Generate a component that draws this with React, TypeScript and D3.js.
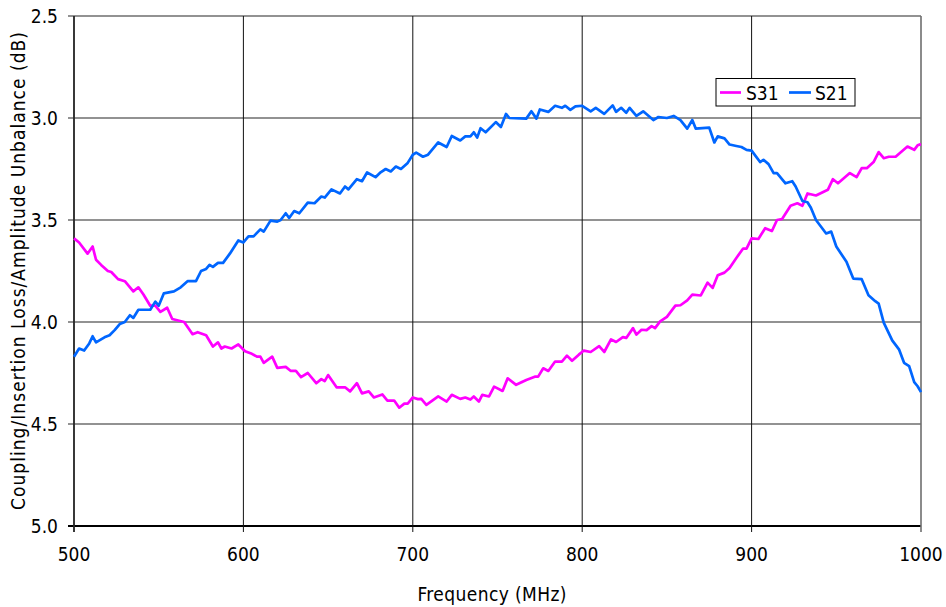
import React from "react";
import * as d3 from "d3";

const xTicks = [500, 600, 700, 800, 900, 1000];
const yTicks = [2.5, 3.0, 3.5, 4.0, 4.5, 5.0];
const seriesNames = ["S31", "S21"];
const seriesColors = ["#ff00ff", "#0066ff"];

const s31: [number, number][] = [
  [500,3.59],[503,3.61],[508,3.665],[511,3.63],[513,3.695],[516,3.72],[520,3.75],[522,3.755],[526,3.79],[530,3.80],[535,3.85],[538,3.83],[541,3.865],[545,3.92],[548,3.92],[551,3.95],[555,3.93],[558,3.985],[565,4.0],[570,4.06],[573,4.05],[578,4.065],[582,4.12],[585,4.10],[587,4.13],[589,4.12],[593,4.13],[597,4.11],[601,4.143],[605,4.156],[608,4.17],[610,4.17],[612,4.20],[617,4.17],[620,4.225],[625,4.22],[628,4.24],[631,4.24],[634,4.27],[638,4.25],[643,4.30],[646,4.28],[648,4.29],[650,4.26],[655,4.32],[660,4.32],[663,4.34],[667,4.30],[670,4.35],[674,4.34],[677,4.37],[682,4.355],[685,4.385],[689,4.385],[692,4.42],[695,4.40],[697,4.40],[700,4.37],[703,4.378],[705,4.377],[708,4.406],[715,4.365],[720,4.39],[723,4.357],[728,4.377],[731,4.37],[734,4.38],[736,4.365],[739,4.39],[741,4.357],[745,4.365],[748,4.317],[753,4.338],[756,4.276],[761,4.308],[767,4.284],[772,4.268],[774,4.268],[777,4.227],[780,4.24],[784,4.194],[788,4.194],[791,4.165],[794,4.19],[798,4.16],[801,4.14],[805,4.147],[810,4.118],[813,4.147],[817,4.085],[820,4.098],[824,4.074],[826,4.078],[830,4.03],[832,4.062],[835,4.038],[838,4.04],[841,4.02],[843,4.03],[846,3.997],[850,3.975],[855,3.92],[858,3.918],[862,3.894],[865,3.866],[870,3.87],[874,3.807],[877,3.833],[880,3.771],[884,3.758],[887,3.735],[891,3.686],[895,3.64],[897,3.64],[900,3.59],[904,3.593],[908,3.54],[912,3.554],[915,3.5],[918,3.495],[923,3.43],[927,3.418],[930,3.43],[933,3.37],[938,3.38],[945,3.352],[948,3.30],[951,3.32],[958,3.27],[962,3.29],[965,3.246],[968,3.246],[972,3.216],[975,3.167],[978,3.197],[981,3.19],[985,3.19],[992,3.14],[996,3.156],[998,3.134],[1000,3.128]
];

const s21: [number, number][] = [
  [500,4.17],[503,4.13],[506,4.14],[509,4.105],[511,4.07],[513,4.10],[518,4.075],[521,4.065],[524,4.04],[527,4.01],[530,4.0],[533,3.967],[535,3.98],[538,3.94],[545,3.94],[548,3.90],[550,3.92],[553,3.86],[559,3.85],[563,3.83],[567,3.80],[572,3.80],[575,3.75],[578,3.74],[580,3.72],[582,3.73],[585,3.71],[588,3.71],[592,3.665],[597,3.60],[600,3.61],[603,3.58],[606,3.58],[610,3.546],[612,3.557],[616,3.503],[620,3.508],[622,3.5],[625,3.467],[627,3.49],[630,3.456],[633,3.467],[638,3.415],[642,3.418],[646,3.385],[648,3.39],[652,3.35],[657,3.37],[660,3.336],[662,3.35],[667,3.30],[670,3.31],[673,3.267],[678,3.29],[681,3.266],[684,3.25],[687,3.262],[690,3.238],[693,3.25],[697,3.22],[700,3.18],[702,3.17],[706,3.19],[709,3.18],[715,3.12],[720,3.142],[723,3.088],[728,3.11],[731,3.09],[734,3.09],[736,3.07],[738,3.096],[740,3.05],[743,3.07],[749,3.02],[752,3.044],[755,2.98],[757,3.0],[767,3.003],[770,2.967],[773,3.003],[775,2.958],[780,2.97],[784,2.94],[788,2.95],[790,2.94],[793,2.96],[796,2.943],[800,2.94],[805,2.967],[808,2.95],[813,2.98],[818,2.938],[820,2.97],[823,2.95],[826,2.974],[828,2.95],[832,2.99],[836,2.967],[842,3.01],[845,2.995],[850,3.0],[854,2.99],[858,3.01],[862,3.052],[865,3.01],[867,3.052],[875,3.047],[878,3.12],[880,3.09],[884,3.10],[887,3.13],[891,3.137],[894,3.142],[897,3.156],[900,3.16],[905,3.216],[907,3.205],[910,3.226],[913,3.27],[915,3.27],[920,3.32],[924,3.31],[926,3.336],[930,3.407],[933,3.413],[935,3.44],[938,3.50],[944,3.566],[947,3.557],[950,3.63],[956,3.705],[960,3.787],[965,3.79],[969,3.869],[973,3.898],[975,3.91],[978,4.003],[983,4.09],[987,4.134],[990,4.20],[993,4.216],[996,4.295],[998,4.315],[1000,4.344]
];

const W = 946, H = 607;
const L = 74, R = 921, T = 16, B = 526;
const FONT = "'DejaVu Sans Condensed', 'DejaVu Sans', sans-serif";

export default function App() {
  const x = d3.scaleLinear().domain([500, 1000]).range([L, R]);
  const y = d3.scaleLinear().domain([2.5, 5.0]).range([T, B]);
  const line = d3.line<[number, number]>().x(d => x(d[0])).y(d => y(d[1]));
  const data = [s31, s21];

  return (
    <svg width={W} height={H} style={{ position: "absolute", left: 0, top: 0, background: "#fff" }}
      fontFamily={FONT} fontStretch="condensed">
      <rect x={0} y={0} width={W} height={H} fill="#fff" />
      {yTicks.map(t => (
        <g key={"y" + t}>
          <line x1={L - 6} x2={R} y1={y(t)} y2={y(t)} stroke={t === 5 ? "#000" : "#6e6e6e"} strokeWidth={t === 5 ? 2 : 1.6} />
          <text x={58} y={y(t)} dy="0.36em" textAnchor="end" fontSize={19} fill="#000">{t.toFixed(1)}</text>
        </g>
      ))}
      {xTicks.map(t => (
        <g key={"x" + t}>
          <line x1={x(t)} x2={x(t)} y1={T} y2={B + 6} stroke={t === 500 || t === 1000 ? "#6e6e6e" : "#111"} strokeWidth={t === 500 || t === 1000 ? 1.6 : 1} />
          <text x={x(t)} y={561} textAnchor="middle" fontSize={19} fill="#000">{t}</text>
        </g>
      ))}
      <line x1={L} x2={L} y1={T} y2={B + 6} stroke="#000" strokeWidth={1.2} />
      {data.map((d, i) => (
        <path key={i} d={line(d) || ""} fill="none" stroke={seriesColors[i]} strokeWidth={2.7} strokeLinejoin="round" />
      ))}
      <g>
        <rect x={716} y={78.5} width={139} height={27.5} fill="#fff" stroke="#000" strokeWidth={1} />
        <line x1={720} x2={741} y1={92.5} y2={92.5} stroke={seriesColors[0]} strokeWidth={2.7} />
        <text x={746} y={99.5} fontSize={19} fill="#000">{seriesNames[0]}</text>
        <line x1={789} x2={811} y1={92.5} y2={92.5} stroke={seriesColors[1]} strokeWidth={2.7} />
        <text x={815} y={99.5} fontSize={19} fill="#000">{seriesNames[1]}</text>
      </g>
      <text x={492} y={601} textAnchor="middle" fontSize={19} fill="#000" textLength={149} lengthAdjust="spacing">Frequency (MHz)</text>
      <text transform="translate(25,271) rotate(-90)" textAnchor="middle" fontSize={19} fill="#000" textLength={478} lengthAdjust="spacing">
        Coupling/Insertion Loss/Amplitude Unbalance (dB)
      </text>
    </svg>
  );
}
